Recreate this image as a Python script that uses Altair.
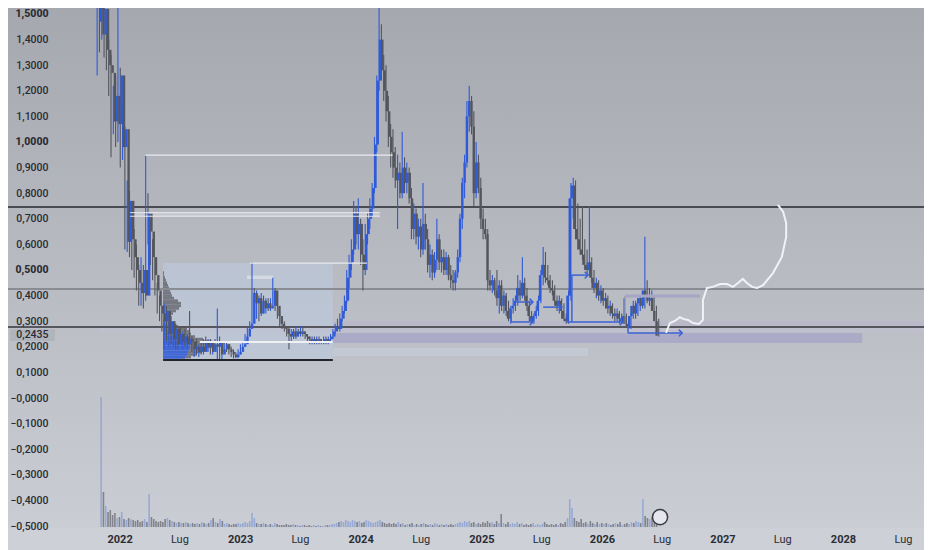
import altair as alt
import pandas as pd

# ---------------- candle data (weekly, from 2021-10-25) ----------------
start_date = "2021-10-25"
opens = [
    1.47, 1.56, 1.42, 1.52, 1.36, 1.30, 1.27, 1.08, 1.18, 1.07,
    1.26, 0.98, 1.05, 0.61, 0.77, 0.62, 0.55, 0.50, 0.45, 0.41,
    0.50, 0.40, 0.72, 0.65, 0.55, 0.48, 0.42, 0.36, 0.33, 0.30,
    0.34, 0.25, 0.30, 0.23, 0.27, 0.21, 0.25, 0.22, 0.24, 0.21,
    0.23, 0.22, 0.19, 0.20, 0.18, 0.20, 0.18, 0.22, 0.20, 0.22,
    0.18, 0.21, 0.20, 0.22, 0.17, 0.19, 0.21, 0.19, 0.18, 0.17,
    0.16, 0.17, 0.18, 0.20, 0.21, 0.24, 0.27, 0.29, 0.41, 0.37,
    0.39, 0.33, 0.38, 0.35, 0.37, 0.35, 0.36, 0.42, 0.36, 0.32,
    0.29, 0.28, 0.27, 0.25, 0.24, 0.26, 0.24, 0.26, 0.25, 0.26,
    0.25, 0.24, 0.23, 0.22, 0.23, 0.22, 0.23, 0.22, 0.22, 0.23,
    0.22, 0.23, 0.24, 0.26, 0.28, 0.27, 0.31, 0.34, 0.38, 0.47,
    0.53, 0.58, 0.72, 0.64, 0.68, 0.56, 0.50, 0.64, 0.70, 0.74,
    0.82, 0.99, 1.24, 1.40, 1.28, 1.20, 1.12, 1.02, 0.96, 0.90,
    0.85, 0.88, 0.80, 0.90, 0.84, 0.88, 0.78, 0.66, 0.72, 0.63,
    0.67, 0.58, 0.68, 0.62, 0.52, 0.56, 0.49, 0.54, 0.62, 0.53,
    0.55, 0.50, 0.55, 0.48, 0.46, 0.45, 0.49, 0.55, 0.70, 0.84,
    0.92, 1.10, 1.16, 1.06, 0.80, 0.92, 0.82, 0.70, 0.66, 0.64,
    0.46, 0.44, 0.46, 0.42, 0.39, 0.44, 0.36, 0.40, 0.34, 0.31,
    0.35, 0.36, 0.38, 0.43, 0.40, 0.45, 0.40, 0.36, 0.32, 0.30,
    0.32, 0.34, 0.38, 0.48, 0.52, 0.47, 0.46, 0.43, 0.42, 0.38,
    0.36, 0.38, 0.34, 0.31, 0.30, 0.40, 0.78, 0.83, 0.66, 0.62,
    0.58, 0.56, 0.52, 0.50, 0.53, 0.47, 0.43, 0.45, 0.40, 0.42,
    0.38, 0.39, 0.35, 0.36, 0.33, 0.32, 0.33, 0.31, 0.30, 0.32,
    0.29, 0.28, 0.32, 0.36, 0.33, 0.37, 0.39, 0.36, 0.42, 0.40,
    0.38, 0.39, 0.34, 0.30,
]
highs = [
    1.62, 1.60, 1.62, 1.58, 1.45, 1.40, 1.34, 1.22, 1.26, 1.58,
    1.29, 1.14, 1.06, 0.85, 0.81, 0.72, 0.66, 0.60, 0.52, 0.55,
    0.52, 0.95, 0.80, 0.70, 0.62, 0.55, 0.45, 0.40, 0.36, 0.37,
    0.36, 0.33, 0.32, 0.30, 0.29, 0.27, 0.28, 0.26, 0.27, 0.25,
    0.34, 0.24, 0.22, 0.23, 0.21, 0.22, 0.23, 0.24, 0.23, 0.23,
    0.22, 0.23, 0.35, 0.24, 0.20, 0.22, 0.22, 0.21, 0.20, 0.19,
    0.18, 0.19, 0.21, 0.22, 0.25, 0.28, 0.30, 0.53, 0.43, 0.42,
    0.40, 0.41, 0.40, 0.39, 0.39, 0.39, 0.47, 0.43, 0.37, 0.33,
    0.31, 0.30, 0.28, 0.28, 0.27, 0.27, 0.28, 0.27, 0.28, 0.28,
    0.26, 0.25, 0.24, 0.24, 0.24, 0.24, 0.24, 0.23, 0.24, 0.24,
    0.24, 0.25, 0.27, 0.29, 0.31, 0.33, 0.36, 0.40, 0.50, 0.56,
    0.62, 0.77, 0.75, 0.78, 0.70, 0.62, 0.68, 0.72, 0.78, 0.84,
    1.02, 1.26, 1.55, 1.46, 1.34, 1.30, 1.18, 1.07, 1.05, 0.98,
    0.95, 0.92, 1.04, 0.94, 0.92, 0.90, 0.82, 0.76, 0.74, 0.70,
    0.70, 0.84, 0.72, 0.66, 0.60, 0.58, 0.57, 0.70, 0.64, 0.58,
    0.58, 0.57, 0.56, 0.52, 0.50, 0.50, 0.58, 0.72, 0.86, 0.95,
    1.16, 1.22, 1.18, 1.12, 1.00, 0.95, 0.86, 0.74, 0.70, 0.66,
    0.50, 0.48, 0.47, 0.50, 0.46, 0.46, 0.42, 0.41, 0.38, 0.36,
    0.39, 0.40, 0.48, 0.46, 0.55, 0.47, 0.43, 0.38, 0.34, 0.33,
    0.36, 0.40, 0.50, 0.59, 0.57, 0.52, 0.48, 0.46, 0.44, 0.40,
    0.40, 0.39, 0.37, 0.33, 0.42, 0.84, 0.86, 0.85, 0.76, 0.70,
    0.75, 0.62, 0.58, 0.75, 0.55, 0.50, 0.47, 0.46, 0.44, 0.43,
    0.41, 0.40, 0.38, 0.37, 0.35, 0.35, 0.34, 0.33, 0.39, 0.33,
    0.31, 0.33, 0.38, 0.38, 0.39, 0.40, 0.40, 0.63, 0.46, 0.43,
    0.42, 0.40, 0.36, 0.31,
]
lows = [
    1.26, 1.35, 1.40, 1.33, 1.28, 1.18, 0.94, 1.03, 0.98, 1.00,
    0.90, 0.93, 0.58, 0.57, 0.55, 0.50, 0.47, 0.42, 0.36, 0.36,
    0.35, 0.38, 0.60, 0.52, 0.46, 0.40, 0.33, 0.30, 0.26, 0.19,
    0.22, 0.20, 0.21, 0.20, 0.19, 0.19, 0.21, 0.19, 0.20, 0.19,
    0.21, 0.18, 0.16, 0.17, 0.16, 0.17, 0.17, 0.19, 0.18, 0.17,
    0.17, 0.19, 0.15, 0.15, 0.15, 0.18, 0.18, 0.17, 0.16, 0.155,
    0.155, 0.155, 0.17, 0.19, 0.20, 0.23, 0.25, 0.28, 0.34, 0.31,
    0.30, 0.32, 0.33, 0.33, 0.34, 0.34, 0.35, 0.34, 0.31, 0.28,
    0.27, 0.26, 0.24, 0.19, 0.22, 0.23, 0.23, 0.24, 0.24, 0.24,
    0.23, 0.22, 0.21, 0.21, 0.21, 0.21, 0.21, 0.21, 0.21, 0.21,
    0.21, 0.22, 0.23, 0.25, 0.26, 0.26, 0.30, 0.33, 0.37, 0.43,
    0.50, 0.56, 0.60, 0.58, 0.52, 0.42, 0.48, 0.60, 0.66, 0.71,
    0.80, 0.96, 1.20, 1.24, 1.16, 1.08, 0.98, 0.90, 0.86, 0.82,
    0.66, 0.78, 0.78, 0.80, 0.80, 0.76, 0.62, 0.62, 0.60, 0.58,
    0.55, 0.56, 0.58, 0.49, 0.47, 0.46, 0.47, 0.50, 0.50, 0.49,
    0.48, 0.48, 0.46, 0.43, 0.42, 0.42, 0.47, 0.53, 0.66, 0.78,
    0.90, 1.04, 1.03, 0.75, 0.78, 0.80, 0.66, 0.62, 0.62, 0.42,
    0.42, 0.41, 0.40, 0.36, 0.33, 0.34, 0.33, 0.32, 0.30, 0.29,
    0.33, 0.34, 0.36, 0.38, 0.39, 0.38, 0.34, 0.30, 0.29, 0.29,
    0.31, 0.32, 0.37, 0.44, 0.45, 0.44, 0.41, 0.40, 0.36, 0.34,
    0.33, 0.31, 0.30, 0.29, 0.29, 0.38, 0.70, 0.62, 0.58, 0.56,
    0.54, 0.50, 0.48, 0.48, 0.45, 0.41, 0.39, 0.38, 0.37, 0.36,
    0.35, 0.33, 0.32, 0.31, 0.30, 0.30, 0.29, 0.29, 0.29, 0.28,
    0.27, 0.27, 0.31, 0.31, 0.32, 0.34, 0.35, 0.35, 0.37, 0.36,
    0.35, 0.33, 0.28, 0.24,
]
closes = [
    1.56, 1.42, 1.52, 1.36, 1.30, 1.27, 1.08, 1.18, 1.07, 1.26,
    0.98, 1.05, 0.61, 0.77, 0.62, 0.55, 0.50, 0.45, 0.41, 0.50,
    0.40, 0.72, 0.65, 0.55, 0.48, 0.42, 0.36, 0.33, 0.30, 0.34,
    0.25, 0.30, 0.23, 0.27, 0.21, 0.25, 0.22, 0.24, 0.21, 0.23,
    0.22, 0.19, 0.20, 0.18, 0.20, 0.18, 0.22, 0.20, 0.22, 0.18,
    0.21, 0.20, 0.22, 0.17, 0.19, 0.21, 0.19, 0.18, 0.17, 0.16,
    0.17, 0.18, 0.20, 0.21, 0.24, 0.27, 0.29, 0.41, 0.37, 0.39,
    0.33, 0.38, 0.35, 0.37, 0.35, 0.36, 0.42, 0.36, 0.32, 0.29,
    0.28, 0.27, 0.25, 0.24, 0.26, 0.24, 0.26, 0.25, 0.26, 0.25,
    0.24, 0.23, 0.22, 0.23, 0.22, 0.23, 0.22, 0.22, 0.23, 0.22,
    0.23, 0.24, 0.26, 0.28, 0.27, 0.31, 0.34, 0.38, 0.47, 0.53,
    0.58, 0.72, 0.64, 0.68, 0.56, 0.50, 0.64, 0.70, 0.74, 0.82,
    0.99, 1.24, 1.40, 1.28, 1.20, 1.12, 1.02, 0.96, 0.90, 0.85,
    0.88, 0.80, 0.90, 0.84, 0.88, 0.78, 0.66, 0.72, 0.63, 0.67,
    0.58, 0.68, 0.62, 0.52, 0.56, 0.49, 0.54, 0.62, 0.53, 0.55,
    0.50, 0.55, 0.48, 0.46, 0.45, 0.49, 0.55, 0.70, 0.84, 0.92,
    1.10, 1.16, 1.06, 0.80, 0.92, 0.82, 0.70, 0.66, 0.64, 0.46,
    0.44, 0.46, 0.42, 0.39, 0.44, 0.36, 0.40, 0.34, 0.31, 0.35,
    0.36, 0.38, 0.43, 0.40, 0.45, 0.40, 0.36, 0.32, 0.30, 0.32,
    0.34, 0.38, 0.48, 0.52, 0.47, 0.46, 0.43, 0.42, 0.38, 0.36,
    0.38, 0.34, 0.31, 0.30, 0.40, 0.78, 0.83, 0.66, 0.62, 0.58,
    0.56, 0.52, 0.50, 0.53, 0.47, 0.43, 0.45, 0.40, 0.42, 0.38,
    0.39, 0.35, 0.36, 0.33, 0.32, 0.33, 0.31, 0.30, 0.32, 0.29,
    0.28, 0.32, 0.36, 0.33, 0.37, 0.39, 0.36, 0.42, 0.40, 0.38,
    0.39, 0.34, 0.30, 0.2435,
]
volumes = [
    130, 35, 21, 15, 17, 12, 14, 9, 10, 15,
    8, 7, 9, 8, 7, 6, 7, 5, 6, 8,
    5, 33, 10, 8, 6, 5, 6, 5, 8, 9,
    7, 6, 5, 4, 5, 4, 4, 5, 4, 3,
    4, 3, 4, 3, 5, 4, 3, 4, 7, 9,
    5, 4, 8, 6, 3, 4, 3, 2, 3, 3,
    4, 3, 4, 5, 4, 6, 14, 9, 4, 3,
    3, 4, 3, 2, 3, 2, 4, 3, 2, 2,
    2, 3, 2, 2, 3, 2, 2, 1, 2, 2,
    1, 2, 1, 2, 1, 2, 1, 1, 2, 2,
    2, 3, 3, 4, 5, 6, 5, 7, 6, 5,
    7, 6, 5, 6, 4, 5, 7, 6, 5, 4,
    5, 6, 7, 5, 4, 3, 4, 3, 4, 3,
    5, 3, 4, 2, 3, 3, 4, 2, 3, 2,
    3, 4, 3, 2, 3, 2, 4, 3, 2, 3,
    2, 3, 2, 3, 2, 3, 4, 5, 4, 6,
    5, 6, 4, 5, 3, 4, 3, 5, 4, 6,
    4, 5, 3, 6, 4, 13, 4, 3, 5, 3,
    4, 3, 5, 3, 4, 2, 3, 2, 3, 4,
    2, 3, 2, 3, 5, 3, 2, 3, 2, 3,
    2, 4, 3, 5, 9, 28, 19, 9, 6, 5,
    8, 4, 5, 3, 6, 4, 3, 5, 3, 4,
    3, 4, 3, 2, 3, 4, 3, 5, 2, 3,
    4, 3, 5, 4, 6, 5, 4, 28, 11, 9,
    8, 10, 12, 9,
]

# ---------------- volume profile (2022-2023 range) ----------------
profile_price = [0.15, 0.16, 0.17, 0.18, 0.19, 0.20, 0.21, 0.22, 0.23, 0.24,
                 0.25, 0.26, 0.27, 0.28, 0.29, 0.30, 0.31, 0.32, 0.33, 0.34,
                 0.35, 0.36, 0.37, 0.38, 0.39, 0.40, 0.41, 0.42, 0.43, 0.44,
                 0.45, 0.46, 0.47, 0.48, 0.49]
profile_blue = [18, 22, 24, 25, 26, 27, 27, 27, 24, 14,
                6, 5, 4, 3, 2, 1, 0, 0, 0, 0,
                0, 0, 0, 0, 0, 0, 0, 0, 0, 0,
                0, 0, 0, 0, 0]
profile_gray = [4, 6, 10, 14, 18, 22, 24, 22, 16, 18,
                22, 22, 20, 12, 6, 4, 5, 7, 10, 13,
                16, 18, 18, 15, 11, 9, 8, 7, 6, 5,
                4, 3, 2, 1, 1]

# ---------------- horizontal levels across the whole chart ----------------
level_price = [0.746, 0.4258, 0.277]
level_color = ["#4a4b52", "#8a8c94", "#56575e"]

# ---------------- shaded zones ----------------
zone_x = ["2022-05-13", "2023-10-09", "2021-10-28", "2023-10-09", "2023-10-09", "2022-02-02", "2023-01-22"]
zone_x2 = ["2023-10-09", "2028-09-03", "2028-09-03", "2028-02-28", "2025-11-20", "2024-02-28", "2023-04-11"]
zone_y = [0.148, 0.281, 0.258, 0.215, 0.164, 0.710, 0.465]
zone_y2 = [0.527, 0.301, 0.273, 0.254, 0.195, 0.724, 0.478]
zone_color = ["#bdcade", "#b7b6cc", "#c1c0d2", "#a8a7c6", "#c4cad6", "#e6e8ee", "#e8eaef"]
zone_opacity = [0.6, 0.6, 0.6, 0.9, 0.8, 0.35, 0.6]

# ---------------- drawn segments ----------------
seg_x = ["2022-03-19", "2022-02-02", "2022-02-02", "2023-01-31", "2022-09-01", "2022-05-13",
         "2026-03-12", "2026-03-12",
         "2025-04-16", "2025-04-01", "2025-04-01", "2025-07-07", "2025-09-17", "2025-10-02",
         "2025-10-02", "2026-03-21", "2026-03-21"]
seg_x2 = ["2024-04-07", "2024-02-28", "2024-02-28", "2024-01-20", "2023-10-09", "2023-10-09",
          "2026-10-25", "2026-03-12",
          "2025-06-06", "2025-06-06", "2025-04-01", "2025-09-02", "2026-03-06", "2025-11-20",
          "2025-10-02", "2026-09-01", "2026-03-21"]
seg_y = [0.949, 0.724, 0.710, 0.527, 0.219, 0.148,
         0.398, 0.290,
         0.375, 0.297, 0.297, 0.355, 0.297, 0.480,
         0.297, 0.254, 0.254]
seg_y2 = [0.949, 0.724, 0.710, 0.527, 0.219, 0.148,
          0.398, 0.398,
          0.375, 0.297, 0.345, 0.355, 0.297, 0.480,
          0.480, 0.254, 0.285]
seg_color = ["#e8eaee", "#e8eaee", "#e8eaee", "#e8eaee", "#eef0f3", "#232428",
             "#a6a5c6", "#8e9099",
             "#3b63d3", "#3b63d3", "#3b63d3", "#3b63d3", "#3b63d3", "#3b63d3",
             "#3b63d3", "#3b63d3", "#3b63d3"]
seg_width = [1.2, 1, 1, 1.2, 2, 2, 3, 1, 1.5, 1.5, 1.5, 1.5, 1.5, 1.5, 1.5, 1.5, 1.5]

arrow_x = ["2025-06-06", "2025-06-06", "2025-09-02", "2026-03-06", "2025-11-20", "2026-09-01"]
arrow_y = [0.375, 0.297, 0.355, 0.297, 0.480, 0.254]

# ---------------- hand-drawn projection ----------------
path_x = ["2026-07-14", "2026-07-26", "2026-08-10", "2026-08-25", "2026-09-04", "2026-09-19",
          "2026-10-04", "2026-10-22", "2026-11-03", "2026-11-03", "2026-11-15", "2026-12-03",
          "2026-12-25", "2027-01-15", "2027-02-02", "2027-02-17", "2027-03-04", "2027-03-16",
          "2027-04-01", "2027-04-16", "2027-05-04", "2027-06-03", "2027-06-30", "2027-07-13",
          "2027-07-13", "2027-07-04", "2027-06-18"]
path_y = [0.254, 0.293, 0.301, 0.316, 0.309, 0.305, 0.293, 0.289, 0.305, 0.383, 0.430, 0.434,
          0.445, 0.445, 0.434, 0.449, 0.465, 0.449, 0.434, 0.430, 0.441, 0.488, 0.551, 0.629,
          0.684, 0.727, 0.754]

# ---------------- axes ----------------
y_ticks = [1.5, 1.4, 1.3, 1.2, 1.1, 1.0, 0.9, 0.8, 0.7, 0.6, 0.5, 0.4, 0.3, 0.2435, 0.2, 0.1,
           0.0, -0.1, -0.2, -0.3, -0.4, -0.5]
last_price = 0.2435

FONT = "Roboto"
TXT = "#2a2c33"

XD = [alt.DateTime(year=2021, month=1, date=28, utc=True),
      alt.DateTime(year=2028, month=9, date=2, hours=12, utc=True)]
YD = [-0.5078, 1.5234]


def xscale():
    return alt.Scale(type="utc", domain=XD, nice=False)


def yscale():
    return alt.Scale(domain=YD, nice=False, zero=False)


def X(f):
    return alt.X(f"{f}:T", scale=xscale(), axis=None)


def Y(f):
    return alt.Y(f"{f}:Q", scale=yscale(), axis=None)


# ---------------- dataframes ----------------
dates = pd.date_range(start_date, periods=len(closes), freq="7D").strftime("%Y-%m-%d")
candles = pd.DataFrame({"date": dates, "o": opens, "h": highs, "l": lows, "c": closes, "v": volumes})
zones = pd.DataFrame({"x": zone_x, "x2": zone_x2, "y": zone_y, "y2": zone_y2,
                      "col": zone_color, "op": zone_opacity})
segs = pd.DataFrame({"x": seg_x, "x2": seg_x2, "y": seg_y, "y2": seg_y2, "col": seg_color, "w": seg_width})
arrows = pd.DataFrame({"x": arrow_x, "y": arrow_y})
path = pd.DataFrame({"x": path_x, "y": path_y, "k": list(range(len(path_x)))})
levels = pd.DataFrame({"y": level_price, "col": level_color})
prof = pd.DataFrame({"p": profile_price, "b": profile_blue, "g": profile_gray})
lastdf = pd.DataFrame({"y": [last_price]})

UP = "#2f5ad8"
DOWN = "#54565d"
dir_color = alt.Color("dir:N", scale=alt.Scale(domain=["up", "down"], range=[UP, DOWN]), legend=None)

# background gradient
bg = alt.Chart(pd.DataFrame({"a": [0]})).mark_rect(
    fill={"gradient": "linear", "x1": 0, "y1": 0, "x2": 0, "y2": 1,
          "stops": [{"offset": 0, "color": "#a6a8b0"}, {"offset": 1, "color": "#cacdd4"}]}
).encode(x=alt.value(0), x2=alt.value(916), y=alt.value(0), y2=alt.value(520))

# zones
zone_layer = alt.Chart(zones).mark_rect().encode(
    x=X("x"), x2="x2", y=Y("y"), y2="y2",
    color=alt.Color("col:N", scale=None), opacity=alt.Opacity("op:Q", scale=None))

# volume profile
pscale = alt.Scale(domain=[0, 100], range=[155, 255], nice=False, zero=False)
prof_base = alt.Chart(prof).transform_calculate(
    lo="datum.p - 0.0052", hi="datum.p + 0.0052", bg="datum.b + datum.g", zero="0")
prof_gray = prof_base.mark_rect(color="#6e7079", opacity=0.9).encode(
    x=alt.X("b:Q", scale=pscale, axis=None), x2="bg:Q", y=Y("lo"), y2="hi:Q")
prof_blue = prof_base.mark_rect(color="#3a62d6", opacity=0.95).encode(
    x=alt.X("zero:Q", scale=pscale, axis=None), x2="b:Q", y=Y("lo"), y2="hi:Q")

# full-width levels
level_layer = alt.Chart(levels).mark_rule(strokeWidth=2).encode(
    y=Y("y"), color=alt.Color("col:N", scale=None))

# segments and arrows
seg_layer = alt.Chart(segs).mark_rule().encode(
    x=X("x"), x2="x2", y=Y("y"), y2="y2",
    color=alt.Color("col:N", scale=None), strokeWidth=alt.StrokeWidth("w:Q", scale=None))
arrow_layer = alt.Chart(arrows).mark_point(
    shape="M -1 -1 L 0 0 L -1 1", size=45, filled=False, strokeWidth=1.5, color="#3b63d3", opacity=1
).encode(x=X("x"), y=Y("y"))

# volume
vol_layer = alt.Chart(candles).transform_calculate(
    vdir="datum.c >= datum.o ? 'up' : 'down'").mark_bar(size=1.6, opacity=0.8).encode(
    x=X("date"),
    y=alt.Y("v:Q", scale=alt.Scale(domain=[0, 130], range=[519, 389], nice=False), axis=None),
    color=alt.Color("vdir:N", scale=alt.Scale(domain=["up", "down"], range=["#8aa1d6", "#6f7179"]),
                    legend=None))

# candles
cbase = alt.Chart(candles).transform_calculate(dir="datum.c >= datum.o ? 'up' : 'down'")
x_values = [alt.DateTime(year=yr, month=m, date=1, utc=True) for yr in range(2022, 2029) for m in (1, 7)]
wick = cbase.mark_rule(strokeWidth=1.1).encode(
    x=alt.X("date:T", scale=xscale(), axis=alt.Axis(
        values=x_values,
        labelExpr="utcmonth(datum.value) == 0 ? utcFormat(datum.value, '%Y') : 'Lug'",
        labelFontWeight={"condition": {"test": "utcmonth(datum.value) == 0", "value": 700}, "value": 400},
        labelFont=FONT, labelFontSize=11, labelColor=TXT, ticks=False, tickSize=0, domain=False,
        grid=False, labelPadding=5, title=None, labelFlush=False, labelOverlap=False, zindex=1)),
    y=alt.Y("l:Q", scale=yscale(), axis=alt.Axis(
        values=y_ticks, orient="left",
        labelExpr="datum.value == 0 ? '\u22120,0000' : (datum.value < 0 ? '\u2212' + replace(format(-datum.value, '.4f'), '.', ',') : replace(format(datum.value, '.4f'), '.', ','))",
        labelFontWeight={"condition": {"test": "datum.value == 1.5 || datum.value == 1 || datum.value == 0.5",
                                       "value": 800}, "value": 500},
        labelOffset={"condition": {"test": "datum.value == 0.2435", "value": -1},
                     "value": 0},
        labelAlign="right", labelBaseline="middle", labelPadding=-40, ticks=False, tickSize=0,
        domain=False, grid=False, title=None, labelFont=FONT, labelFontSize=10.5, labelColor=TXT,
        labelFlush=False, labelOverlap=False, zindex=1)),
    y2="h:Q", color=dir_color)
body = cbase.mark_bar(size=2.4).encode(
    x=X("date"), y=Y("o"), y2="c:Q", color=dir_color)

# projection curve
path_layer = alt.Chart(path).mark_line(color="#f1f2f5", strokeWidth=2, interpolate="linear").encode(
    x=X("x"), y=Y("y"), order="k:Q")

# last price label box
last_box = alt.Chart(lastdf).transform_calculate(
    lo="datum.y - 0.021", hi="datum.y + 0.025").mark_rect(color="#b2b4bc").encode(
    x=alt.value(2), x2=alt.value(47), y=Y("lo"), y2="hi:Q")

# small badge near the last candle
badge = alt.Chart(pd.DataFrame({"x": ["2026-06-26"], "y": [-0.465]})).mark_point(
    shape="circle", size=230, filled=True, fill="#e6e7ec", stroke="#3a3b40", strokeWidth=1.5, opacity=1
).encode(x=X("x"), y=Y("y"))

chart = alt.layer(
    bg, zone_layer, prof_gray, prof_blue, level_layer, last_box, vol_layer,
    wick, body, seg_layer, arrow_layer, path_layer, badge
).resolve_scale(x="independent", y="independent", color="independent").properties(
    width=916, height=520,
    autosize=alt.AutoSizeParams(type="none"),
    padding={"left": 0, "top": 0, "right": 0, "bottom": 22},
    background="#cdd0d7",
).configure_view(stroke=None)

chart.save("out.html", embed_options={"renderer": "svg", "actions": False})
